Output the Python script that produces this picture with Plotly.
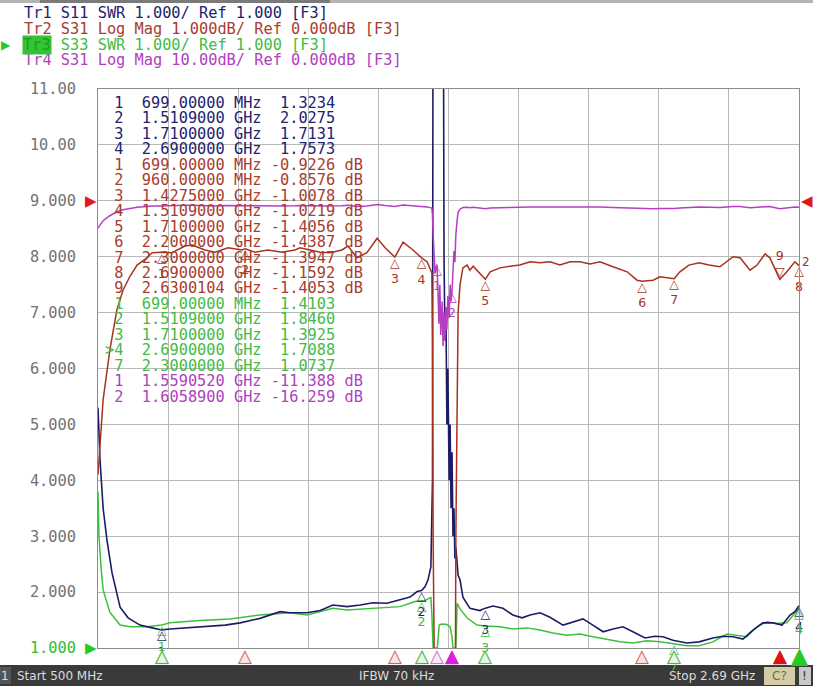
import plotly.graph_objects as go

# ------------------------------------------------------------------ data
f_start_mhz, f_stop_mhz = 500, 2690
swr_ticks = [1, 2, 3, 4, 5, 6, 7, 8, 9, 10, 11]
swr_tick_labels = ["1.000", "2.000", "3.000", "4.000", "5.000", "6.000",
                   "7.000", "8.000", "9.000", "10.00", "11.00"]

header_lines = ["Tr1 S11 SWR 1.000/ Ref 1.000 [F3]",
                "Tr2 S31 Log Mag 1.000dB/ Ref 0.000dB [F3]",
                "Tr3 S33 SWR 1.000/ Ref 1.000 [F3]",
                "Tr4 S31 Log Mag 10.00dB/ Ref 0.000dB [F3]"]
status_start = "Start 500 MHz"
status_ifbw = "IFBW 70 kHz"
status_stop = "Stop 2.69 GHz"

# Tr1: S11 SWR
s11_freq_mhz = [500, 506, 516, 528, 544, 569, 594, 631, 669, 694,
                699, 725, 770, 819, 860, 897, 944, 1006, 1069, 1100,
                1153, 1194, 1234, 1278, 1319, 1359, 1403, 1443, 1475, 1497,
                1510.9, 1522, 1531, 1540, 1545, 1547, 1578, 1581, 1584, 1587,
                1590, 1593, 1597, 1600, 1603, 1606, 1609, 1612, 1615, 1618,
                1625, 1631, 1640, 1662, 1693, 1710, 1734, 1765, 1796, 1825,
                1850, 1881, 1912, 1953, 1984, 2015, 2046, 2078, 2109, 2140,
                2171, 2209, 2240, 2265, 2296, 2340, 2378, 2421, 2453, 2484,
                2515, 2546, 2577, 2609, 2637, 2662, 2677, 2690]
s11_swr = [5.3, 4.4, 3.5, 2.93, 2.34, 1.73, 1.54, 1.41, 1.36, 1.32,
           1.3234, 1.34, 1.36, 1.38, 1.39, 1.41, 1.45, 1.53, 1.65, 1.63,
           1.63, 1.67, 1.77, 1.74, 1.77, 1.81, 1.80, 1.86, 1.91, 2.01,
           2.0275, 2.10, 2.22, 2.45, 4.0, 15, 15, 8, 6.5, 7,
           5, 6, 4, 5, 3.5, 4.5, 3, 3.5, 2.6, 2.8,
           2.3, 2.22, 1.91, 1.71, 1.67, 1.7131, 1.75, 1.71, 1.59, 1.54,
           1.59, 1.63, 1.55, 1.41, 1.47, 1.52, 1.41, 1.29, 1.34, 1.38,
           1.29, 1.18, 1.21, 1.20, 1.14, 1.09, 1.11, 1.18, 1.21, 1.20,
           1.16, 1.32, 1.45, 1.45, 1.41, 1.59, 1.65, 1.7573]

# Tr3: S33 SWR
s33_freq_mhz = [500, 503, 510, 516, 537, 569, 600, 653, 699, 725,
                819, 912, 1006, 1100, 1153, 1234, 1278, 1359, 1443, 1475,
                1490, 1510.9, 1522, 1531, 1540, 1543, 1547, 1560, 1566, 1575,
                1590, 1600, 1606, 1609, 1618, 1622, 1631, 1653, 1684, 1710,
                1756, 1796, 1840, 1881, 1921, 1965, 2006, 2046, 2090, 2131,
                2171, 2215, 2256, 2300, 2340, 2378, 2421, 2465, 2496, 2527,
                2559, 2590, 2621, 2652, 2671, 2690]
s33_swr = [3.8, 3.0, 2.4, 2.04, 1.64, 1.41, 1.38, 1.38, 1.4103, 1.45,
           1.49, 1.52, 1.59, 1.63, 1.59, 1.71, 1.68, 1.71, 1.74, 1.80,
           1.83, 1.846, 1.85, 1.88, 1.9, 1.6, 1.0, 1.0, 1.41, 1.43,
           1.42, 1.38, 1.2, 1.0, 1.0, 1.8, 1.7, 1.54, 1.41, 1.3925,
           1.38, 1.34, 1.36, 1.32, 1.27, 1.23, 1.25, 1.2, 1.16, 1.11,
           1.09, 1.13, 1.11, 1.0737, 1.04, 1.04, 1.11, 1.25, 1.23, 1.2,
           1.38, 1.47, 1.44, 1.45, 1.58, 1.7088]

# Tr2 / Tr4: S31 log magnitude (dB), same measurement at two scales
s31_freq_mhz = [500, 516, 537, 559, 578, 600, 622, 653, 669, 699,
                731, 772, 794, 834, 866, 906, 950, 960, 990, 1031,
                1075, 1115, 1131, 1194, 1225, 1262, 1281, 1309, 1340, 1372,
                1397, 1427.5, 1453, 1484, 1510.9, 1528, 1543, 1545, 1547, 1550,
                1553, 1556, 1559.052, 1562, 1565, 1568, 1571, 1575, 1578, 1581,
                1584, 1587, 1590, 1593, 1597, 1600, 1603, 1605.89, 1609, 1612,
                1615, 1618, 1622, 1625, 1631, 1640, 1653, 1662, 1672, 1687,
                1710, 1725, 1756, 1787, 1818, 1850, 1881, 1912, 1943, 1975,
                2006, 2037, 2068, 2109, 2153, 2184, 2200, 2234, 2256, 2300,
                2318, 2346, 2378, 2409, 2443, 2484, 2506, 2537, 2559, 2584,
                2599, 2630.0104, 2652, 2677, 2690]
s31_db = [-4.9, -3.56, -2.67, -1.95, -1.6, -1.35, -1.15, -1.02, -0.93, -0.9226,
          -0.93, -0.81, -0.79, -0.88, -0.92, -0.84, -0.88, -0.8576, -0.92, -0.88,
          -0.92, -0.88, -0.84, -0.92, -0.93, -0.88, -0.81, -1.02, -0.93, -0.67,
          -0.84, -1.0078, -0.74, -0.88, -1.0219, -1.09, -1.29, -2.5, -6, -10,
          -13, -12, -11.388, -16, -22, -15, -24, -18, -26, -20,
          -25, -19, -23, -17, -21, -15, -18, -16.259, -12, -9,
          -11, -6, -3.5, -2.0, -1.5, -1.2, -1.15, -1.24, -1.17, -1.27,
          -1.4056, -1.27, -1.2, -1.17, -1.15, -1.09, -1.11, -1.09, -1.15, -1.09,
          -1.09, -1.13, -1.09, -1.18, -1.27, -1.42, -1.4387, -1.42, -1.36, -1.3947,
          -1.27, -1.15, -1.11, -1.15, -1.18, -1.0, -1.02, -1.24, -1.15, -0.95,
          -1.02, -1.4053, -1.27, -1.09, -1.1592]

# markers
tr1_mk_num = [1, 2, 3, 4]
tr1_mk_freq = [699, 1510.9, 1710, 2690]
tr1_mk_val = [1.3234, 2.0275, 1.7131, 1.7573]
tr2_mk_num = [1, 2, 3, 4, 5, 6, 7, 8, 9]
tr2_mk_freq = [699, 960, 1427.5, 1510.9, 1710, 2200, 2300, 2690, 2630.0104]
tr2_mk_val = [-0.9226, -0.8576, -1.0078, -1.0219, -1.4056, -1.4387, -1.3947, -1.1592, -1.4053]
tr3_mk_num = [1, 2, 3, 4, 7]
tr3_mk_freq = [699, 1510.9, 1710, 2690, 2300]
tr3_mk_val = [1.4103, 1.8460, 1.3925, 1.7088, 1.0737]
tr3_active = 4
tr4_mk_num = [1, 2]
tr4_mk_freq = [1559.052, 1605.89]
tr4_mk_val = [-11.388, -16.259]

# ------------------------------------------------------------------ style
W, H = 813, 686
L, R, T, B = 98, 14, 89, 38
PW, PH = W - L - R, H - T - B
MONO = "DejaVu Sans Mono"
FS = 15.3
C1, C2, C3, C4 = "#1c1c66", "#a8321e", "#3cc03c", "#b83cc4"
C1T, C2T, C3T, C4T = "#22226e", "#a83c2e", "#44bb44", "#b040c0"
GRID = "#b9b9b9"


def ppx(x):
    return (x - L) / PW


def ppy(y):
    return (H - B - y) / PH


def nb(s):
    return s.replace(" ", "\u00a0")


def ftxt(f):
    if f < 1000:
        return f"{f:.5f}", "MHz"
    return f"{f / 1000:.7f}", "GHz"


def vtxt(v, db):
    s = f"{v:.4f}" if abs(v) < 10 else f"{v:.3f}"
    return f"{s:>7}" + (" dB" if db else "")


fig = go.Figure()

# traces
fig.add_trace(go.Scatter(x=s31_freq_mhz, y=s31_db, yaxis="y3", mode="lines",
                         line=dict(color=C4, width=1.5), hoverinfo="skip"))
fig.add_trace(go.Scatter(x=s31_freq_mhz, y=s31_db, yaxis="y2", mode="lines",
                         line=dict(color=C2, width=1.5), hoverinfo="skip"))
fig.add_trace(go.Scatter(x=s33_freq_mhz, y=s33_swr, mode="lines",
                         line=dict(color=C3, width=1.5), hoverinfo="skip"))
fig.add_trace(go.Scatter(x=s11_freq_mhz, y=s11_swr, mode="lines",
                         line=dict(color=C1, width=1.6), hoverinfo="skip"))


def mk_labels(freqs, vals, nums, color, yaxis, above=()):
    texts, pos = [], []
    for n in nums:
        if n in above:
            texts.append(f"{n}<br>▽")
            pos.append("top center")
        else:
            texts.append(f"△<br>{n}")
            pos.append("bottom center")
    fig.add_trace(go.Scatter(x=freqs, y=vals, yaxis=yaxis, mode="text",
                             text=texts, textposition=pos, cliponaxis=False,
                             textfont=dict(family="DejaVu Sans", size=12.5, color=color),
                             hoverinfo="skip"))


mk_labels(tr1_mk_freq, tr1_mk_val, tr1_mk_num, C1, "y")
mk_labels(tr3_mk_freq, tr3_mk_val, tr3_mk_num, C3, "y")
mk_labels(tr2_mk_freq, tr2_mk_val, tr2_mk_num, C2, "y2", above=(9,))
mk_labels(tr4_mk_freq, tr4_mk_val, tr4_mk_num, C4, "y3")

ann = []

# marker position indicators under the grid (x in data units)
red_open = [f for n, f in zip(tr2_mk_num, tr2_mk_freq) if n != 9]
red_act = [f for n, f in zip(tr2_mk_num, tr2_mk_freq) if n == 9]
grn_open = [f for n, f in zip(tr3_mk_num, tr3_mk_freq) if n != tr3_active]
grn_act = [f for n, f in zip(tr3_mk_num, tr3_mk_freq) if n == tr3_active]
ind = [
    (red_open, "#fbe2e2", "#cc6060", 18),
    (red_act, "#dd1111", "#dd1111", 18),
    (tr4_mk_freq[:1], "#fbeafb", "#cc70cc", 18),
    (tr4_mk_freq[1:], "#dd22dd", "#dd22dd", 18),
    (grn_open, "#e2f7e2", "#3cbb3c", 18),
    (grn_act, "#22cc22", "#22cc22", 22),
]
for xs, fc, lc, sz in ind:
    for f in xs:
        for glyph, col in (("▲", fc), ("△", lc)):
            ann.append(dict(xref="x", yref="paper", x=f, y=ppy(655), xanchor="center",
                            yanchor="middle", showarrow=False, text=glyph, borderpad=0,
                            font=dict(family="DejaVu Sans", size=sz, color=col)))

# header
hdr_cols = [C1T, C2T, C3T, C4T]
hdr_y = [13.5, 29, 44.7, 60]
for i, (txt, col) in enumerate(zip(header_lines, hdr_cols)):
    t = txt
    if i == 2:
        t = "\u00a0\u00a0\u00a0" + txt[3:]
    ann.append(dict(xref="paper", yref="paper", x=ppx(21.5), y=ppy(hdr_y[i]),
                    xanchor="left", yanchor="middle", showarrow=False, text=nb(t),
                    font=dict(family=MONO, size=FS, color=col)))
ann.append(dict(xref="paper", yref="paper", x=ppx(21.5), y=ppy(hdr_y[2]),
                xanchor="left", yanchor="middle", showarrow=False,
                text=header_lines[2][:3], bgcolor="#33c433", borderpad=0,
                font=dict(family=MONO, size=FS, color="#229922")))
ann.append(dict(xref="paper", yref="paper", x=ppx(6), y=ppy(hdr_y[2]),
                xanchor="center", yanchor="middle", showarrow=False, text="▶",
                font=dict(family="DejaVu Sans", size=12, color="#22cc22")))

# marker table
rows = []
for n, f, v in zip(tr1_mk_num, tr1_mk_freq, tr1_mk_val):
    a, u = ftxt(f)
    rows.append((f" {n}  {a} {u} {vtxt(v, False)}", C1T))
for n, f, v in zip(tr2_mk_num, tr2_mk_freq, tr2_mk_val):
    a, u = ftxt(f)
    rows.append((f" {n}  {a} {u} {vtxt(v, True)}", C2T))
for n, f, v in zip(tr3_mk_num, tr3_mk_freq, tr3_mk_val):
    a, u = ftxt(f)
    p = ">" if n == tr3_active else " "
    rows.append((f"{p}{n}  {a} {u} {vtxt(v, False)}", C3T))
for n, f, v in zip(tr4_mk_num, tr4_mk_freq, tr4_mk_val):
    a, u = ftxt(f)
    rows.append((f" {n}  {a} {u} {vtxt(v, True)}", C4T))
for i, (txt, col) in enumerate(rows):
    ann.append(dict(xref="paper", yref="paper", x=ppx(103), y=ppy(103 + 15.45 * i),
                    xanchor="left", yanchor="middle", showarrow=False, text=nb(txt),
                    font=dict(family=MONO, size=FS, color=col)))

# reference level arrows
ann.append(dict(xref="paper", yref="y", x=ppx(91), y=9, xanchor="center", yanchor="middle",
                showarrow=False, text="▶", font=dict(family="DejaVu Sans", size=15, color="#e01818")))
ann.append(dict(xref="paper", yref="y", x=ppx(91), y=1, xanchor="center", yanchor="middle",
                showarrow=False, text="▶", font=dict(family="DejaVu Sans", size=15, color="#22cc22")))
ann.append(dict(xref="paper", yref="y", x=ppx(807), y=9, xanchor="center", yanchor="middle",
                showarrow=False, text="◀", font=dict(family="DejaVu Sans", size=15, color="#e01818")))
ann.append(dict(xref="paper", yref="paper", x=ppx(806), y=ppy(262), xanchor="center", yanchor="middle",
                showarrow=False, text="2", font=dict(family="DejaVu Sans", size=12, color=C2)))

# status bar
SB = dict(family="DejaVu Sans", size=12, color="#dcdcdc")
ann.append(dict(xref="paper", yref="paper", x=ppx(5), y=ppy(676), xanchor="center", yanchor="middle",
                showarrow=False, text="1", font=SB))
ann.append(dict(xref="paper", yref="paper", x=ppx(15), y=ppy(676), xanchor="left", yanchor="middle",
                showarrow=False, text=status_start, font=SB))
ann.append(dict(xref="paper", yref="paper", x=ppx(396), y=ppy(676), xanchor="center", yanchor="middle",
                showarrow=False, text=status_ifbw, font=SB))
ann.append(dict(xref="paper", yref="paper", x=ppx(757), y=ppy(676), xanchor="right", yanchor="middle",
                showarrow=False, text=status_stop, font=SB))
ann.append(dict(xref="paper", yref="paper", x=ppx(779), y=ppy(676), xanchor="center", yanchor="middle",
                showarrow=False, text="C?", font=dict(family="DejaVu Sans", size=12, color="#6a6a50")))
ann.append(dict(xref="paper", yref="paper", x=ppx(804), y=ppy(676), xanchor="center", yanchor="middle",
                showarrow=False, text="!", font=dict(family="DejaVu Sans", size=12, color="#333333")))

shapes = [
    dict(type="rect", xref="paper", yref="paper", x0=ppx(0), x1=ppx(W), y0=ppy(H), y1=ppy(665),
         fillcolor="#3a3a3a", line_width=0, layer="below"),
    dict(type="rect", xref="paper", yref="paper", x0=ppx(0), x1=ppx(11), y0=ppy(684), y1=ppy(667),
         fillcolor="#555555", line_width=0, layer="below"),
    dict(type="rect", xref="paper", yref="paper", x0=ppx(764), x1=ppx(795), y0=ppy(685), y1=ppy(667),
         fillcolor="#d4cca4", line_width=0, layer="below"),
    dict(type="rect", xref="paper", yref="paper", x0=ppx(799), x1=ppx(811), y0=ppy(685), y1=ppy(667),
         fillcolor="#c8c8c8", line_width=0, layer="below"),
    dict(type="rect", xref="paper", yref="paper", x0=ppx(0), x1=ppx(W), y0=ppy(3), y1=ppy(0),
         fillcolor="#b4b4b4", line_width=0, layer="below"),
    dict(type="rect", xref="paper", yref="paper", x0=ppx(40), x1=ppx(330), y0=ppy(3), y1=ppy(0),
         fillcolor="#7a7a7a", line_width=0, layer="below"),
]

tick_text = [f'<span style="color:#33bb33">{t}</span>' if i == 0 else t
             for i, t in enumerate(swr_tick_labels)]

fig.update_layout(
    width=W, height=H, margin=dict(l=L, r=R, t=T, b=B, pad=0),
    paper_bgcolor="white", plot_bgcolor="white", showlegend=False,
    xaxis=dict(range=[f_start_mhz, f_stop_mhz], tick0=f_start_mhz,
               dtick=(f_stop_mhz - f_start_mhz) / 10, showticklabels=False, ticks="",
               showgrid=True, gridcolor=GRID, gridwidth=1, zeroline=False,
               showline=True, linecolor="#8c8c8c", linewidth=1, mirror=True, fixedrange=True),
    yaxis=dict(range=[1, 11], tickvals=swr_ticks, ticktext=tick_text, ticks="",
               tickfont=dict(family=MONO, size=FS, color="#727272"), ticklabelstandoff=18,
               showgrid=True, gridcolor=GRID, gridwidth=1, zeroline=False,
               showline=True, linecolor="#8c8c8c", linewidth=1, mirror=True, fixedrange=True),
    yaxis2=dict(range=[-8, 2], overlaying="y", visible=False, fixedrange=True),
    yaxis3=dict(range=[-80, 20], overlaying="y", visible=False, fixedrange=True),
    annotations=ann, shapes=shapes, hovermode=False,
)

fig.write_html("out.html", config={"displayModeBar": False},
               post_script="document.body.style.margin='0';document.body.style.overflow='hidden';")
